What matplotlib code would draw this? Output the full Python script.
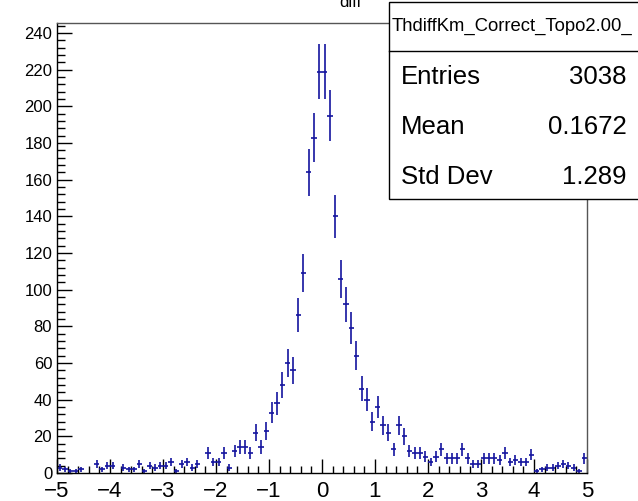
import numpy as np
import matplotlib.pyplot as plt
from matplotlib.ticker import MultipleLocator

plt.rcParams['font.family'] = ['Liberation Sans', 'DejaVu Sans']

# 100 bins of width 0.1 between -5 and 5
edges = np.linspace(-5, 5, 101)
counts = [
    3, 2, 1, 1, 2, 0, 0, 5, 2, 4,
    4, 0, 3, 2, 2, 5, 1, 4, 3, 4,
    4, 6, 1, 5, 6, 3, 5, 0, 11, 6,
    6, 11, 3, 12, 14, 14, 11, 22, 14, 23,
    33, 38, 48, 60, 56, 86, 109, 164, 183, 219,
    219, 195, 140, 106, 92, 79, 64, 46, 40, 28,
    36, 26, 22, 13, 26, 20, 12, 11, 11, 9,
    6, 9, 13, 8, 8, 8, 13, 8, 5, 5,
    8, 8, 8, 7, 11, 6, 7, 6, 6, 10,
    1, 2, 3, 3, 4, 5, 4, 3, 1, 8,
]
hist_name = "ThdiffKm_Correct_Topo2.00_"
title = "diff"
stat_labels = ["Entries", "Mean", "Std Dev"]
stat_values = ["3038", "0.1672", "1.289"]

counts = np.array(counts, dtype=float)
centers = 0.5 * (edges[:-1] + edges[1:])
half_width = 0.5 * (edges[1] - edges[0])
filled = counts > 0

W, H = 638, 501
fig = plt.figure(figsize=(W / 100, H / 100), dpi=100)
ax = fig.add_axes([57 / W, 1 - 473 / H, 530 / W, 450 / H])

ax.errorbar(centers[filled], counts[filled],
            xerr=half_width, yerr=np.sqrt(counts[filled]),
            fmt='none', ecolor='#14149e', elinewidth=1.2, capsize=0)

ax.set_xlim(-5, 5)
ax.set_ylim(0, 245.5)

ax.xaxis.set_major_locator(MultipleLocator(1))
ax.xaxis.set_minor_locator(MultipleLocator(0.2))
ax.yaxis.set_major_locator(MultipleLocator(20))
ax.yaxis.set_minor_locator(MultipleLocator(4))

ax.tick_params(axis='both', which='both', direction='in', top=False, right=False,
               width=1.0, color='black')
ax.tick_params(axis='x', which='major', length=10, labelsize=16, pad=5.5)
ax.tick_params(axis='x', which='minor', length=5)
ax.tick_params(axis='y', which='major', length=11, labelsize=12, pad=3.5)
ax.tick_params(axis='y', which='minor', length=5.5)

for side in ['left', 'bottom']:
    ax.spines[side].set_color('black')
    ax.spines[side].set_linewidth(1.0)
for side in ['top', 'right']:
    ax.spines[side].set_color('#555555')
    ax.spines[side].set_linewidth(1.0)

# histogram title, partly above the canvas
fig.text(350 / W, 1 - 7 / H, title, ha='center', va='baseline', fontsize=12)

# statistics box
box_left, box_top, box_bottom, box_right = 389, 2, 199, 645
fig.patches.append(plt.Rectangle((box_left / W, 1 - box_bottom / H),
                                 (box_right - box_left) / W,
                                 (box_bottom - box_top) / H,
                                 transform=fig.transFigure, facecolor='white',
                                 edgecolor='black', linewidth=1.0, zorder=5))
fig.add_artist(plt.Line2D([box_left / W, 1.01], [1 - 51 / H, 1 - 51 / H],
                          transform=fig.transFigure, color='black',
                          linewidth=1.0, zorder=6))
fig.text(392 / W, 1 - 26 / H, hist_name, ha='left', va='center',
         fontsize=13.3, zorder=7)
for i, (lab, val) in enumerate(zip(stat_labels, stat_values)):
    y = 1 - (77 + 50 * i) / H
    fig.text(401 / W, y, lab, ha='left', va='center', fontsize=18.5, zorder=7)
    fig.text(627 / W, y, val, ha='right', va='center', fontsize=18.5, zorder=7)

fig.savefig('out.png', dpi=100)
